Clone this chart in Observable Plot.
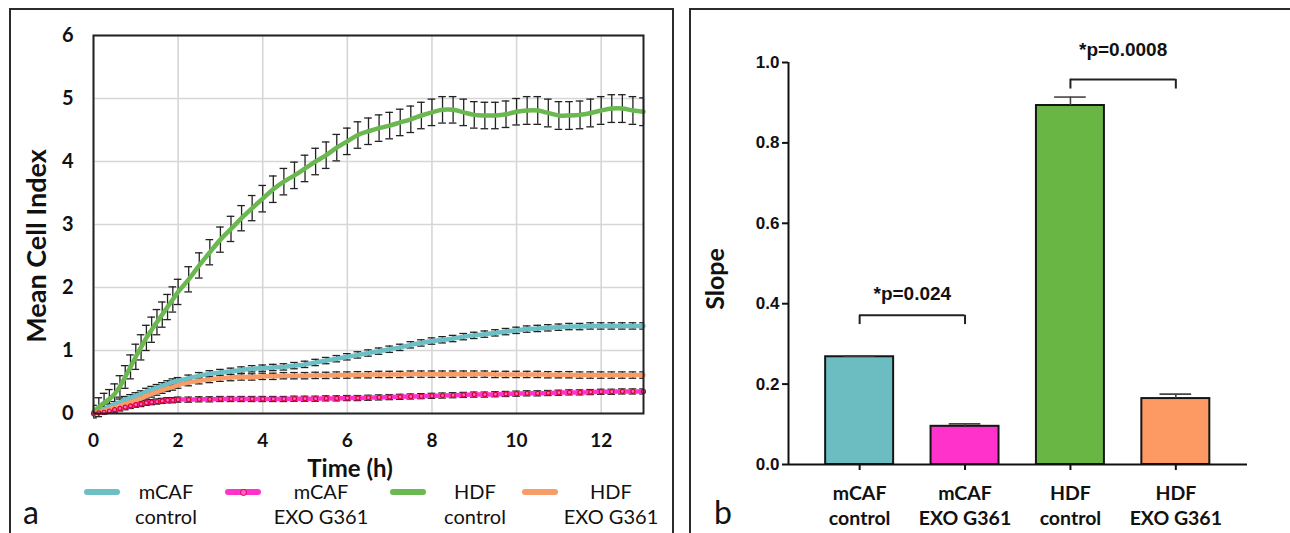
<!DOCTYPE html>
<html>
<head>
<meta charset="utf-8">
<script src="https://cdn.jsdelivr.net/npm/d3@7"></script>
<script src="https://cdn.jsdelivr.net/npm/@observablehq/plot@0.6"></script>
<style>
  html, body { margin: 0; padding: 0; background: #fff; }
  #root { position: relative; width: 1290px; height: 533px; overflow: hidden; background: #fff; font-family: Lato, "Open Sans", sans-serif; }
  .frame { position: absolute; border: 2px solid #2b2b2b; box-sizing: border-box; }
  .abs { position: absolute; white-space: nowrap; color: #111; }
  .lbl { font-weight: bold; }
  .rot { transform: translate(-50%, -50%) rotate(-90deg); }
  .ctr { transform: translate(-50%, -50%); text-align: center; }
  .sw { position: absolute; height: 6px; border-radius: 3px; }
  .leg { position: absolute; transform: translateX(-50%); text-align: center; font-size: 20px; line-height: 25px; color: #111; font-weight: normal; }
  svg { position: absolute; top: 0; }
</style>
</head>
<body>
<div id="root">
  <div class="frame" style="left:9px; top:8px; width:665px; height:540px;"></div>
  <div class="frame" style="left:689px; top:8px; width:620px; height:540px;"></div>
</div>
<script>
// ---------- Panel a: real-time cell index ----------
const time = [0, 0.125, 0.25, 0.375, 0.5, 0.625, 0.75, 0.875, 1, 1.125, 1.25, 1.375, 1.5, 1.625, 1.75, 1.875, 2,
  2.25, 2.5, 2.75, 3, 3.25, 3.5, 3.75, 4, 4.25, 4.5, 4.75, 5, 5.25, 5.5, 5.75, 6, 6.25, 6.5, 6.75, 7, 7.25, 7.5, 7.75,
  8, 8.25, 8.5, 8.75, 9, 9.25, 9.5, 9.75, 10, 10.25, 10.5, 10.75, 11, 11.25, 11.5, 11.75, 12, 12.25, 12.5, 12.75, 13];

const mcafControl = [0, 0.03, 0.07, 0.11, 0.15, 0.18, 0.22, 0.25, 0.28, 0.31, 0.35, 0.38, 0.41, 0.44, 0.47, 0.5, 0.52,
  0.56, 0.6, 0.63, 0.65, 0.67, 0.69, 0.71, 0.72, 0.73, 0.74, 0.76, 0.78, 0.81, 0.84, 0.87, 0.9, 0.93, 0.96, 0.99, 1.02, 1.05, 1.09, 1.12,
  1.15, 1.17, 1.19, 1.22, 1.24, 1.26, 1.28, 1.3, 1.32, 1.34, 1.35, 1.36, 1.37, 1.38, 1.38, 1.39, 1.39, 1.39, 1.39, 1.39, 1.39];
const mcafControlErr = [0, 0.03, 0.04, 0.04, 0.04, 0.05, 0.05, 0.05, 0.05, 0.05, 0.05, 0.05, 0.05, 0.05, 0.05, 0.05, 0.05,
  0.05, 0.05, 0.05, 0.05, 0.05, 0.05, 0.05, 0.05, 0.05, 0.05, 0.05, 0.05, 0.05, 0.05, 0.05, 0.05, 0.05, 0.05, 0.05, 0.05, 0.05, 0.05, 0.05,
  0.05, 0.05, 0.05, 0.05, 0.05, 0.05, 0.05, 0.05, 0.05, 0.05, 0.05, 0.05, 0.05, 0.05, 0.05, 0.05, 0.05, 0.05, 0.05, 0.05, 0.05];

const mcafExo = [0, 0.01, 0.02, 0.04, 0.06, 0.08, 0.1, 0.12, 0.14, 0.15, 0.17, 0.18, 0.19, 0.2, 0.21, 0.21, 0.22,
  0.22, 0.225, 0.225, 0.23, 0.23, 0.23, 0.23, 0.23, 0.23, 0.23, 0.235, 0.235, 0.235, 0.24, 0.24, 0.245, 0.245, 0.25, 0.255, 0.26, 0.265, 0.27, 0.275,
  0.28, 0.285, 0.29, 0.295, 0.3, 0.3, 0.305, 0.31, 0.315, 0.32, 0.32, 0.325, 0.33, 0.335, 0.335, 0.34, 0.345, 0.345, 0.35, 0.35, 0.35];
const mcafExoErr = [0, 0.02, 0.03, 0.03, 0.04, 0.04, 0.04, 0.04, 0.04, 0.04, 0.04, 0.04, 0.04, 0.04, 0.04, 0.04, 0.04,
  0.04, 0.04, 0.04, 0.04, 0.04, 0.04, 0.04, 0.04, 0.04, 0.04, 0.04, 0.04, 0.04, 0.04, 0.04, 0.04, 0.04, 0.04, 0.04, 0.04, 0.04, 0.04, 0.04,
  0.04, 0.04, 0.04, 0.04, 0.04, 0.04, 0.04, 0.04, 0.04, 0.04, 0.04, 0.04, 0.04, 0.04, 0.04, 0.04, 0.04, 0.04, 0.04, 0.04, 0.04];

const hdfControl = [0.03, 0.1, 0.17, 0.23, 0.31, 0.43, 0.58, 0.74, 0.9, 1.05, 1.2, 1.33, 1.45, 1.57, 1.69, 1.81, 1.93,
  2.13, 2.35, 2.56, 2.76, 2.93, 3.1, 3.26, 3.41, 3.56, 3.68, 3.78, 3.89, 4.0, 4.1, 4.22, 4.32, 4.42, 4.48, 4.53, 4.57, 4.62, 4.67, 4.73,
  4.78, 4.82, 4.82, 4.78, 4.74, 4.73, 4.73, 4.75, 4.79, 4.81, 4.81, 4.77, 4.73, 4.73, 4.74, 4.77, 4.81, 4.84, 4.84, 4.81, 4.79];
const hdfControlErr = [0.1, 0.15, 0.15, 0.15, 0.16, 0.17, 0.18, 0.19, 0.2, 0.2, 0.2, 0.2, 0.2, 0.2, 0.2, 0.2, 0.2,
  0.2, 0.2, 0.2, 0.2, 0.2, 0.2, 0.2, 0.21, 0.21, 0.21, 0.21, 0.21, 0.21, 0.21, 0.21, 0.21, 0.21, 0.21, 0.21, 0.21, 0.21, 0.21, 0.21,
  0.21, 0.21, 0.21, 0.21, 0.21, 0.21, 0.21, 0.21, 0.21, 0.22, 0.22, 0.22, 0.22, 0.22, 0.22, 0.22, 0.22, 0.22, 0.22, 0.22, 0.22];

const hdfExo = [0, 0.02, 0.04, 0.07, 0.09, 0.12, 0.15, 0.18, 0.21, 0.24, 0.28, 0.31, 0.34, 0.37, 0.4, 0.42, 0.45,
  0.49, 0.52, 0.54, 0.56, 0.57, 0.58, 0.58, 0.59, 0.59, 0.6, 0.6, 0.6, 0.605, 0.605, 0.61, 0.61, 0.615, 0.615, 0.62, 0.62, 0.62, 0.625, 0.625,
  0.625, 0.625, 0.625, 0.625, 0.625, 0.625, 0.62, 0.62, 0.62, 0.62, 0.62, 0.615, 0.615, 0.615, 0.61, 0.61, 0.61, 0.61, 0.61, 0.61, 0.61];
const hdfExoErr = [0, 0.02, 0.03, 0.04, 0.04, 0.05, 0.05, 0.05, 0.05, 0.05, 0.05, 0.05, 0.05, 0.05, 0.05, 0.05, 0.05,
  0.05, 0.05, 0.05, 0.05, 0.05, 0.05, 0.05, 0.05, 0.05, 0.05, 0.05, 0.05, 0.05, 0.05, 0.05, 0.05, 0.05, 0.05, 0.05, 0.05, 0.05, 0.05, 0.05,
  0.05, 0.05, 0.05, 0.05, 0.05, 0.05, 0.05, 0.05, 0.05, 0.05, 0.05, 0.05, 0.05, 0.05, 0.05, 0.05, 0.05, 0.05, 0.05, 0.05, 0.05];

const seriesNames = ["mCAF\ncontrol", "mCAF\nEXO G361", "HDF\ncontrol", "HDF\nEXO G361"];
const lineColors = ["#6cc0c5", "#ff33cc", "#6ab84f", "#f99d68"];
const xTicksA = [0, 2, 4, 6, 8, 10, 12];
const yTicksA = [0, 1, 2, 3, 4, 5, 6];

// ---------- Panel b: slopes ----------
const groups = ["mCAF\ncontrol", "mCAF\nEXO G361", "HDF\ncontrol", "HDF\nEXO G361"];
const slope = [0.268, 0.095, 0.893, 0.164];
const slopeErr = [0.002, 0.006, 0.021, 0.011];
const barColors = ["#6bbdc2", "#ff33cc", "#6ab645", "#fd9a64"];
const yTicksB = [0, 0.2, 0.4, 0.6, 0.8, 1.0];
const comparisons = [
  {from: 0, to: 1, label: "*p=0.024", level: 0.371, leg: 0.348, textAt: 0.425},
  {from: 2, to: 3, label: "*p=0.0008", level: 0.958, leg: 0.934, textAt: 1.032}
];

// build tables
const seriesVals = [mcafControl, mcafExo, hdfControl, hdfExo];
const seriesErrs = [mcafControlErr, mcafExoErr, hdfControlErr, hdfExoErr];
const rows = [];
seriesVals.forEach((vals, s) => vals.forEach((v, i) => rows.push({s, t: time[i], v, e: seriesErrs[s][i]})));
const bars = groups.map((g, i) => ({i, g, v: slope[i], e: slopeErr[i], c: barColors[i]}));

const root = document.getElementById("root");

const capA = 0.09;
const chartA = Plot.plot({
  width: 680, height: 533,
  marginLeft: 93, marginRight: 37, marginTop: 35, marginBottom: 120,
  x: {domain: [0, 13]},
  y: {domain: [0, 6]},
  style: {fontFamily: "Lato, 'Open Sans', sans-serif", fontSize: "20px", fontWeight: "bold", color: "#111", background: "transparent", overflow: "visible"},
  marks: [
    Plot.gridX(xTicksA, {stroke: "#d6d6d6", strokeOpacity: 1, strokeWidth: 1.6}),
    Plot.gridY(yTicksA, {stroke: "#d6d6d6", strokeOpacity: 1, strokeWidth: 1.6}),
    Plot.axisX(xTicksA, {tickSize: 0, tickPadding: 20, tickFormat: d => String(d), label: null, fontSize: 19, fontWeight: "bold"}),
    Plot.axisY(yTicksA, {tickSize: 0, tickPadding: 20, tickFormat: d => String(d), label: null, fontSize: 20, fontWeight: "bold"}),
    // error bars
    Plot.ruleX(rows, {x: "t", y1: d => d.v - d.e, y2: d => d.v + d.e, stroke: "#222", strokeWidth: 1.3}),
    Plot.ruleY(rows, {y: d => d.v + d.e, x1: d => Math.max(0, d.t - capA), x2: d => Math.min(13, d.t + capA), stroke: "#222", strokeWidth: 1.3}),
    Plot.ruleY(rows, {y: d => d.v - d.e, x1: d => Math.max(0, d.t - capA), x2: d => Math.min(13, d.t + capA), stroke: "#222", strokeWidth: 1.3}),
    // lines
    Plot.line(rows, {x: "t", y: "v", z: "s", stroke: d => lineColors[d.s], strokeWidth: 4.5, curve: "catmull-rom"}),
    Plot.dot(rows.filter(d => d.s === 1), {x: "t", y: "v", r: 2, stroke: "#e0002a", strokeWidth: 1.2, fill: "#ff66d6"}),
    Plot.frame({stroke: "#222", strokeWidth: 2})
  ]
});
chartA.style.left = "0px";
root.appendChild(chartA);

const half = 0.3225;
const chartB = Plot.plot({
  width: 610, height: 533,
  marginLeft: 108, marginRight: 43, marginTop: 62, marginBottom: 69,
  x: {domain: [-0.675, 3.68]},
  y: {domain: [0, 1]},
  style: {fontFamily: "'Liberation Sans', Arial, sans-serif", fontSize: "17px", fontWeight: "bold", color: "#111", background: "transparent", overflow: "visible"},
  marks: [
    Plot.rectY(bars, {x1: d => d.i - half, x2: d => d.i + half, y1: 0, y2: "v", fill: "c", stroke: "#151515", strokeWidth: 2}),
    Plot.ruleX(bars, {x: "i", y1: "v", y2: d => d.v + d.e, stroke: "#444", strokeWidth: 1.6}),
    Plot.ruleY(bars, {y: d => d.v + d.e, x1: d => d.i - 0.15, x2: d => d.i + 0.15, stroke: "#444", strokeWidth: 1.6}),
    Plot.ruleY([0], {stroke: "#111", strokeWidth: 2}),
    Plot.ruleX([-0.675], {y1: 0, y2: 1, stroke: "#111", strokeWidth: 2}),
    Plot.axisY(yTicksB, {tickSize: 6, strokeWidth: 2, tickPadding: 3, tickFormat: d3.format(".1f"), label: null, fontSize: 17, fontWeight: "bold"}),
    Plot.axisX([0, 1, 2, 3], {tickSize: 6, strokeWidth: 2, tickFormat: () => "", label: null}),
    Plot.text(bars, {x: "i", y: 0, text: "g", dy: 40, lineHeight: 1.3, fontSize: 19.5, fontWeight: "bold", fontFamily: "Lato, 'Open Sans', sans-serif", fill: "#111"}),
    // significance brackets
    Plot.ruleY(comparisons, {y: "level", x1: "from", x2: "to", stroke: "#222", strokeWidth: 2}),
    Plot.ruleX(comparisons, {x: "from", y1: "leg", y2: "level", stroke: "#222", strokeWidth: 2}),
    Plot.ruleX(comparisons, {x: "to", y1: "leg", y2: "level", stroke: "#222", strokeWidth: 2}),
    Plot.text(comparisons, {x: d => (d.from + d.to) / 2, y: "textAt", text: "label", fontSize: 19, fontWeight: "bold", fill: "#111"})
  ]
});
chartB.style.left = "680px";
root.appendChild(chartB);

// titles, legend and panel letters (HTML)
function addDiv(cls, style, text) {
  const d = document.createElement("div");
  d.className = cls;
  d.setAttribute("style", style);
  d.textContent = text;
  root.appendChild(d);
  return d;
}
addDiv("abs lbl rot", "left:35px; top:246px; font-size:27px;", "Mean Cell Index");
addDiv("abs lbl ctr", "left:350px; top:467px; font-size:24px;", "Time (h)");
addDiv("abs lbl rot", "left:714px; top:279px; font-size:25px;", "Slope");
addDiv("abs", "left:23px; top:494px; font-size:32px; line-height:36px;", "a");
addDiv("abs", "left:714px; top:494px; font-size:32px; line-height:36px;", "b");

const swatchX = [84, 225, 390, 522];
const legTextX = [166, 321, 475, 611];
seriesNames.forEach((name, s) => {
  const sw = document.createElement("div");
  sw.className = "sw";
  sw.setAttribute("style", `left:${swatchX[s]}px; top:489px; width:36px; background:${lineColors[s]};`);
  root.appendChild(sw);
  if (s === 1) {
    const m = document.createElement("div");
    m.setAttribute("style", `position:absolute; left:${swatchX[s] + 15}px; top:489px; width:5px; height:5px; border-radius:50%; border:1px solid #e0002a; background:#ff66d6;`);
    root.appendChild(m);
  }
  const t = document.createElement("div");
  t.className = "leg";
  t.setAttribute("style", `left:${legTextX[s]}px; top:479px;`);
  t.innerHTML = name.split("\n").join("<br>");
  root.appendChild(t);
});
</script>
</body>
</html>
